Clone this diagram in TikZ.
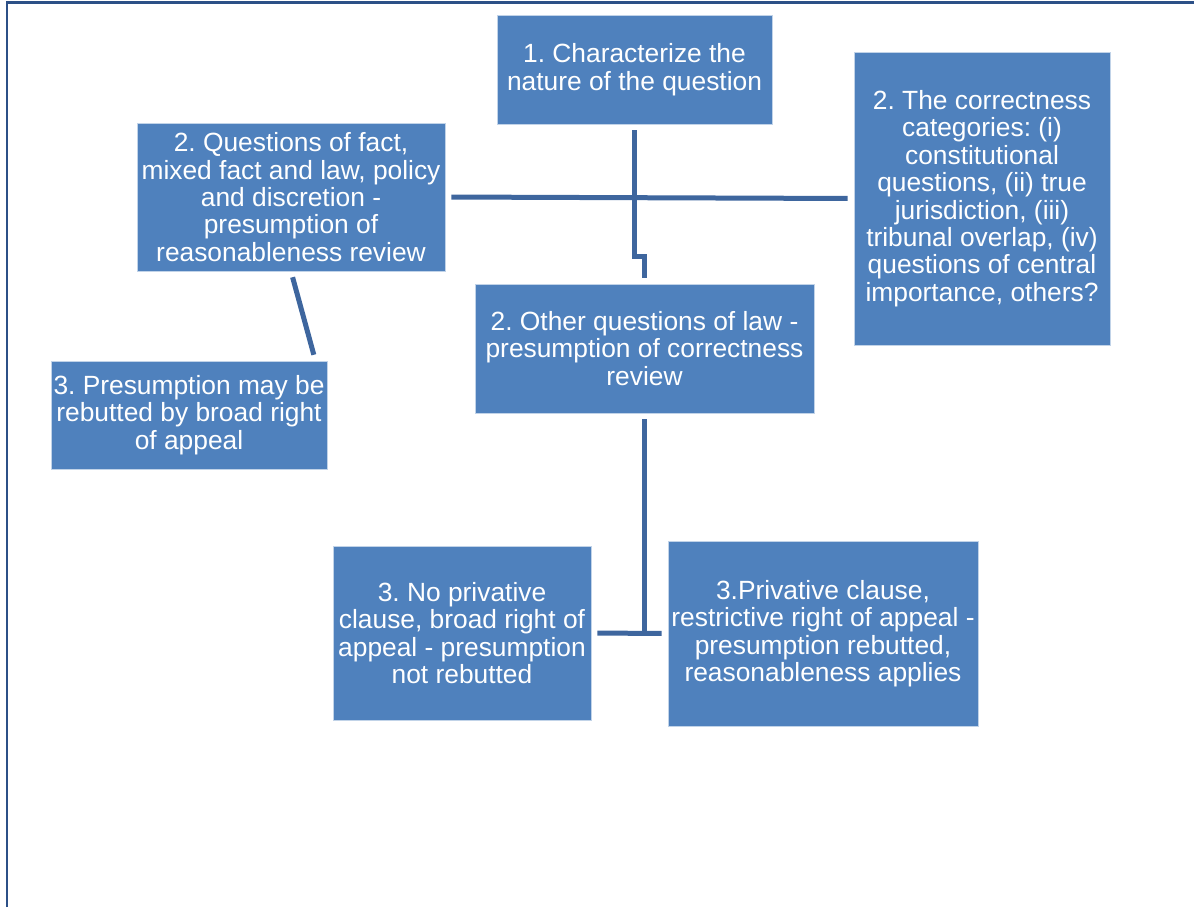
\documentclass[tikz,border=0pt]{standalone}
\usepackage{fontspec}
\setmainfont{Liberation Sans}
\usetikzlibrary{calc}
\definecolor{boxblue}{RGB}{79,129,189}
\definecolor{linkblue}{RGB}{62,102,158}
\definecolor{frameblue}{RGB}{44,80,135}
\frenchspacing

\begin{document}
\begin{tikzpicture}[x=0.02cm, y=-0.02cm,
  box/.style={rectangle, fill=boxblue, draw=white!65!boxblue, line width=0.5pt, text=white, align=center, inner sep=0pt, font=\fontsize{15}{15.6}\selectfont},
  link/.style={draw=linkblue, line width=0.1cm, shorten <=0.12cm, shorten >=0.12cm}]
\useasboundingbox (0,0) rectangle (1194,907);
% frame
\draw[frameblue, line width=0.06cm] (7,907) -- (7,2.5) -- (1194,2.5);
% boxes
\node[box, minimum width=5.5cm, minimum height=2.18cm] (nature) at (634.5,69.5) {1. Characterize the\\nature of the question};
\node[box, minimum width=6.16cm, minimum height=2.96cm] (fact) at (291,197) {2. Questions of fact,\\mixed fact and law, policy\\and discretion -\\presumption of\\reasonableness review};
\node[box, minimum width=5.12cm, minimum height=5.86cm] (categories) at (982,198.5) {2. The correctness\\categories: (i)\\constitutional\\questions, (ii) true\\jurisdiction, (iii)\\tribunal overlap, (iv)\\questions of central\\importance, others?};
\node[box, minimum width=6.78cm, minimum height=2.58cm] (law) at (644.5,348.5) {2. Other questions of law -\\presumption of correctness\\review};
\node[box, minimum width=5.52cm, minimum height=2.16cm] (rebut) at (189,415) {3. Presumption may be\\rebutted by broad right\\of appeal};
\node[box, minimum width=5.16cm, minimum height=3.48cm] (noclause) at (462,633) {3. No privative\\clause, broad right of\\appeal - presumption\\not rebutted};
\node[box, minimum width=6.2cm, minimum height=3.7cm] (clause) at (823,633.5) {3.Privative clause,\\restrictive right of appeal -\\presumption rebutted,\\reasonableness applies};
% connectors
\draw[link] (nature.south) -- ++(0,132) -| (law.north);
\draw[link] (fact.east) -- (categories.west);
\draw[link] (fact.south) -- ([xshift=-0.24cm]rebut.north east);
\draw[link, shorten >=0pt] (law.south) -- (law.south |- noclause.east);
\draw[link] (noclause.east) -- (clause.west);
\end{tikzpicture}
\end{document}
